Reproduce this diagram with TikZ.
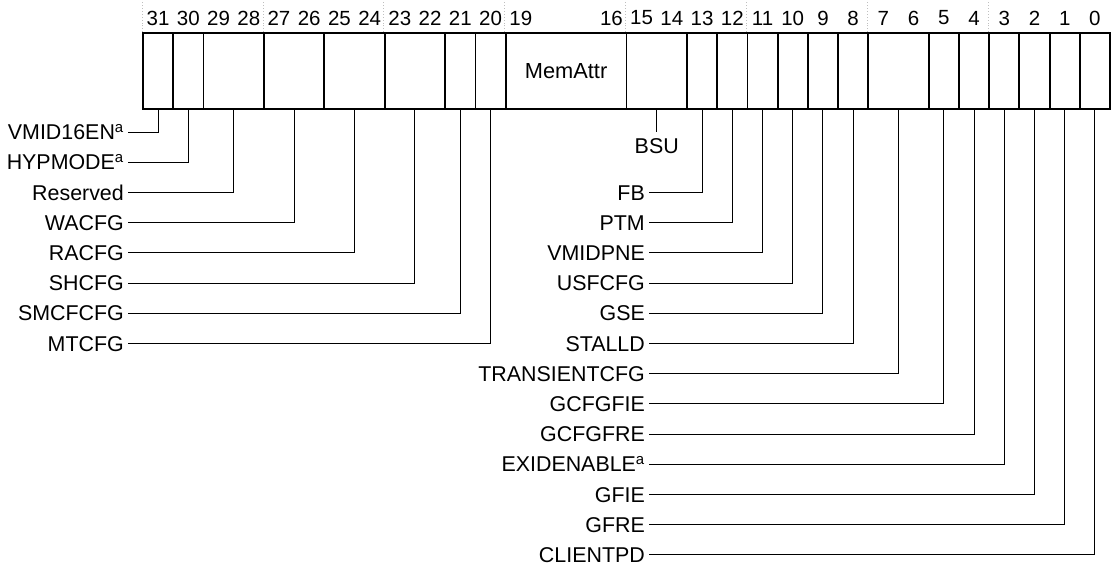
\documentclass[tikz,border=0pt]{standalone}
\usepackage{fontspec}
\setmainfont{Liberation Sans}

\begin{document}
\begin{tikzpicture}[x=1pt,y=-1pt]
\tikzset{field/.style={draw, line width=1.8pt, minimum height=76pt, inner sep=0pt},
         bitnum/.style={font=\fontsize{20.5}{24}\selectfont, inner sep=0pt},
         fname/.style={font=\fontsize{21.4}{25}\selectfont, anchor=east, inner xsep=4pt,
                       inner ysep=1pt, text height=15.4pt, text depth=0pt},
         leader/.style={line width=1pt},
         guide/.style={gray!50, dotted, line width=0.9pt}}
\useasboundingbox (0,0) rectangle (1111,565);
% register fields
\foreach \hi/\lo in {31/31,30/30,29/28,27/26,25/24,23/22,21/21,20/20,19/16,15/14,
                     13/13,12/12,11/11,10/10,9/9,8/8,7/6,5/5,4/4,3/3,2/2,1/1,0/0}{
  \pgfmathsetmacro\fw{(\hi-\lo+1)*30.22}
  \pgfmathsetmacro\fx{143+(31-\hi)*30.22+\fw/2}
  \node[field, minimum width=\fw pt] (f\hi) at (\fx,71) {};
}
\node[bitnum, font=\fontsize{21.8}{25}\selectfont] (memattr) at (f19) {MemAttr};
% bit numbers
\foreach \f in {31,27,23,19,15,11,7,3}
  \draw[guide] (f\f.north west) -- ++(0,-33);
\foreach \b in {0,...,16,19,20,...,31}
  \node[bitnum] (b\b) at ({143+(31.5-\b)*30.22},18) {\b};
% field names
\foreach \f/\k/\t in {31/0/{VMID16EN\textsuperscript{a}},30/1/{HYPMODE\textsuperscript{a}},
                      29/2/Reserved,27/3/WACFG,25/4/RACFG,23/5/SHCFG,21/6/SMCFCFG,20/7/MTCFG}{
  \node[fname] (l\f) at (128,{132+30.2*\k}) {\t};
  \draw[leader] (f\f.south) |- (l\f.east);
}
\foreach \f/\k/\t in {13/2/FB,12/3/PTM,11/4/VMIDPNE,10/5/USFCFG,9/6/GSE,8/7/STALLD,
                      7/8/TRANSIENTCFG,5/9/GCFGFIE,4/10/GCFGFRE,3/11/{EXIDENABLE\textsuperscript{a}},
                      2/12/GFIE,1/13/GFRE,0/14/CLIENTPD}{
  \node[fname] (l\f) at (649,{132+30.2*\k}) {\t};
  \draw[leader] (f\f.south) |- (l\f.east);
}
\node[fname, anchor=north, inner sep=6pt] (bsu) at (f15.south |- 0,132) {BSU};
\draw[leader] (f15.south) -- (bsu.north);
\end{tikzpicture}
\end{document}
